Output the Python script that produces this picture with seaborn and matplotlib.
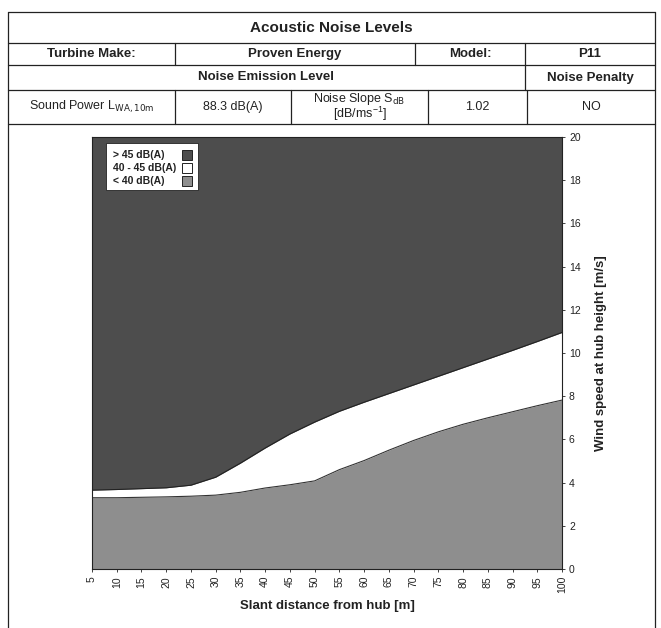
import matplotlib
matplotlib.use("Agg")
import matplotlib.pyplot as plt
import seaborn as sns
import pandas as pd
from matplotlib.patches import Rectangle

# ===========================
# DATA
# ===========================
distance = [5, 10, 15, 20, 25, 30, 35, 40, 45, 50,
            55, 60, 65, 70, 75, 80, 85, 90, 95, 100]
# wind speed where level reaches 40 dB(A)
lower_40 = [3.3, 3.3, 3.32, 3.34, 3.37, 3.42, 3.55, 3.75, 3.9, 4.08,
            4.6, 5.02, 5.5, 5.95, 6.35, 6.7, 7.0, 7.28, 7.56, 7.82]
# wind speed where level reaches 45 dB(A)
upper_45 = [3.65, 3.68, 3.72, 3.76, 3.88, 4.25, 4.9, 5.6, 6.25, 6.8,
            7.3, 7.72, 8.12, 8.52, 8.92, 9.32, 9.72, 10.12, 10.53, 10.95]
y_ticks = list(range(0, 21, 2))
legend_labels = ["> 45 dB(A)", "40 - 45 dB(A)", "< 40 dB(A)"]

# header table texts
title = "Acoustic Noise Levels"
make_row = ["Turbine Make:", "Proven Energy", "Model:", "P11"]
level_row = ["Noise Emission Level", "Noise Penalty"]
value_row = ["Sound Power L$_{\\mathrm{WA,10m}}$", "88.3 dB(A)",
             "Noise Slope S$_{\\mathrm{dB}}$\n[dB/ms$^{-1}$]", "1.02", "NO"]

COL_HIGH = "#4d4d4d"
COL_MID = "#ffffff"
COL_LOW = "#8e8e8e"
INK = "#222222"

sns.set_theme(style="white")
plt.rcParams["font.family"] = ["Liberation Sans", "DejaVu Sans"]
plt.rcParams["mathtext.default"] = "regular"

W, H = 661, 628
fig = plt.figure(figsize=(W / 100, H / 100), dpi=100)

# ===========================
# TABLE + FRAME (pixel coordinates)
# ===========================
frame = fig.add_axes([0, 0, 1, 1])
frame.set_xlim(0, W)
frame.set_ylim(H, 0)
frame.axis("off")

L, R = 8, 655
rows = [12, 43, 65, 90, 124]
for y in rows:
    frame.plot([L, R], [y, y], color=INK, lw=0.9)
frame.plot([L, L], [rows[0], H], color=INK, lw=0.9)
frame.plot([R, R], [rows[0], H], color=INK, lw=0.9)


def row_cells(y0, y1, cuts, texts, weight, size):
    edges = [L] + cuts + [R]
    for c in cuts:
        frame.plot([c, c], [y0, y1], color=INK, lw=0.9)
    for i, t in enumerate(texts):
        frame.text((edges[i] + edges[i + 1]) / 2, (y0 + y1) / 2, t,
                   ha="center", va="center", fontsize=size, weight=weight,
                   linespacing=0.85, color=INK)


frame.text((L + R) / 2, (rows[0] + rows[1]) / 2 + 1, title, ha="center",
           va="center", fontsize=11, weight="bold", color=INK)
row_cells(rows[1], rows[2], [175, 415, 525], make_row, "bold", 9.5)
row_cells(rows[2], rows[3], [525], level_row, "bold", 9.5)
row_cells(rows[3], rows[4], [175, 291, 428, 527], value_row, "normal", 9)

# ===========================
# CHART
# ===========================
df = pd.DataFrame({"distance": distance, "lower": lower_40, "upper": upper_45})

ax = fig.add_axes([92 / W, 1 - 569 / H, 470 / W, 432 / H])
ax.fill_between(df["distance"], 0, df["lower"], color=COL_LOW, lw=0)
ax.fill_between(df["distance"], df["upper"], 20, color=COL_HIGH, lw=0)
sns.lineplot(data=df, x="distance", y="lower", color="#333333", lw=0.8, ax=ax)
sns.lineplot(data=df, x="distance", y="upper", color=INK, lw=0.8, ax=ax)

ax.set_xlim(5, 100)
ax.set_ylim(0, 20)
ax.set_xticks(distance)
ax.set_xticklabels([str(d) for d in distance], rotation=90)
ax.yaxis.tick_right()
ax.yaxis.set_label_position("right")
ax.set_yticks(y_ticks)
ax.tick_params(axis="both", length=2, width=0.6, labelsize=7.5, pad=3,
               colors=INK, bottom=True, right=True)
for s in ax.spines.values():
    s.set_color(INK)
    s.set_linewidth(0.8)

ax.set_xlabel("Slant distance from hub [m]", fontsize=9.5, weight="bold",
              labelpad=5, color=INK)
ax.set_ylabel("Wind speed at hub height [m/s]", fontsize=9.5, weight="bold",
              labelpad=10, rotation=90, color=INK)


# legend box: text left, swatch right (as in the original sheet)
def px2ax(px, py):
    return (px - 92) / 470, (569 - py) / 432


bx0, by0 = px2ax(106, 190)
bx1, by1 = px2ax(198, 143)
ax.add_patch(Rectangle((bx0, by0), bx1 - bx0, by1 - by0, transform=ax.transAxes,
                       facecolor="white", edgecolor=INK, lw=0.6, zorder=5))
for i, (lab, col) in enumerate(zip(legend_labels, (COL_HIGH, COL_MID, COL_LOW))):
    ty = 155 + i * 13
    tx, tyy = px2ax(113, ty)
    ax.text(tx, tyy, lab, transform=ax.transAxes, fontsize=7.5, weight="bold",
            va="center", ha="left", color=INK, zorder=6)
    sx, sy = px2ax(182, ty + 5)
    sw, sh = 10 / 470, 10 / 432
    ax.add_patch(Rectangle((sx, sy), sw, sh, transform=ax.transAxes,
                           facecolor=col, edgecolor=INK, lw=0.7, zorder=6))

fig.savefig("out.png", dpi=100)
